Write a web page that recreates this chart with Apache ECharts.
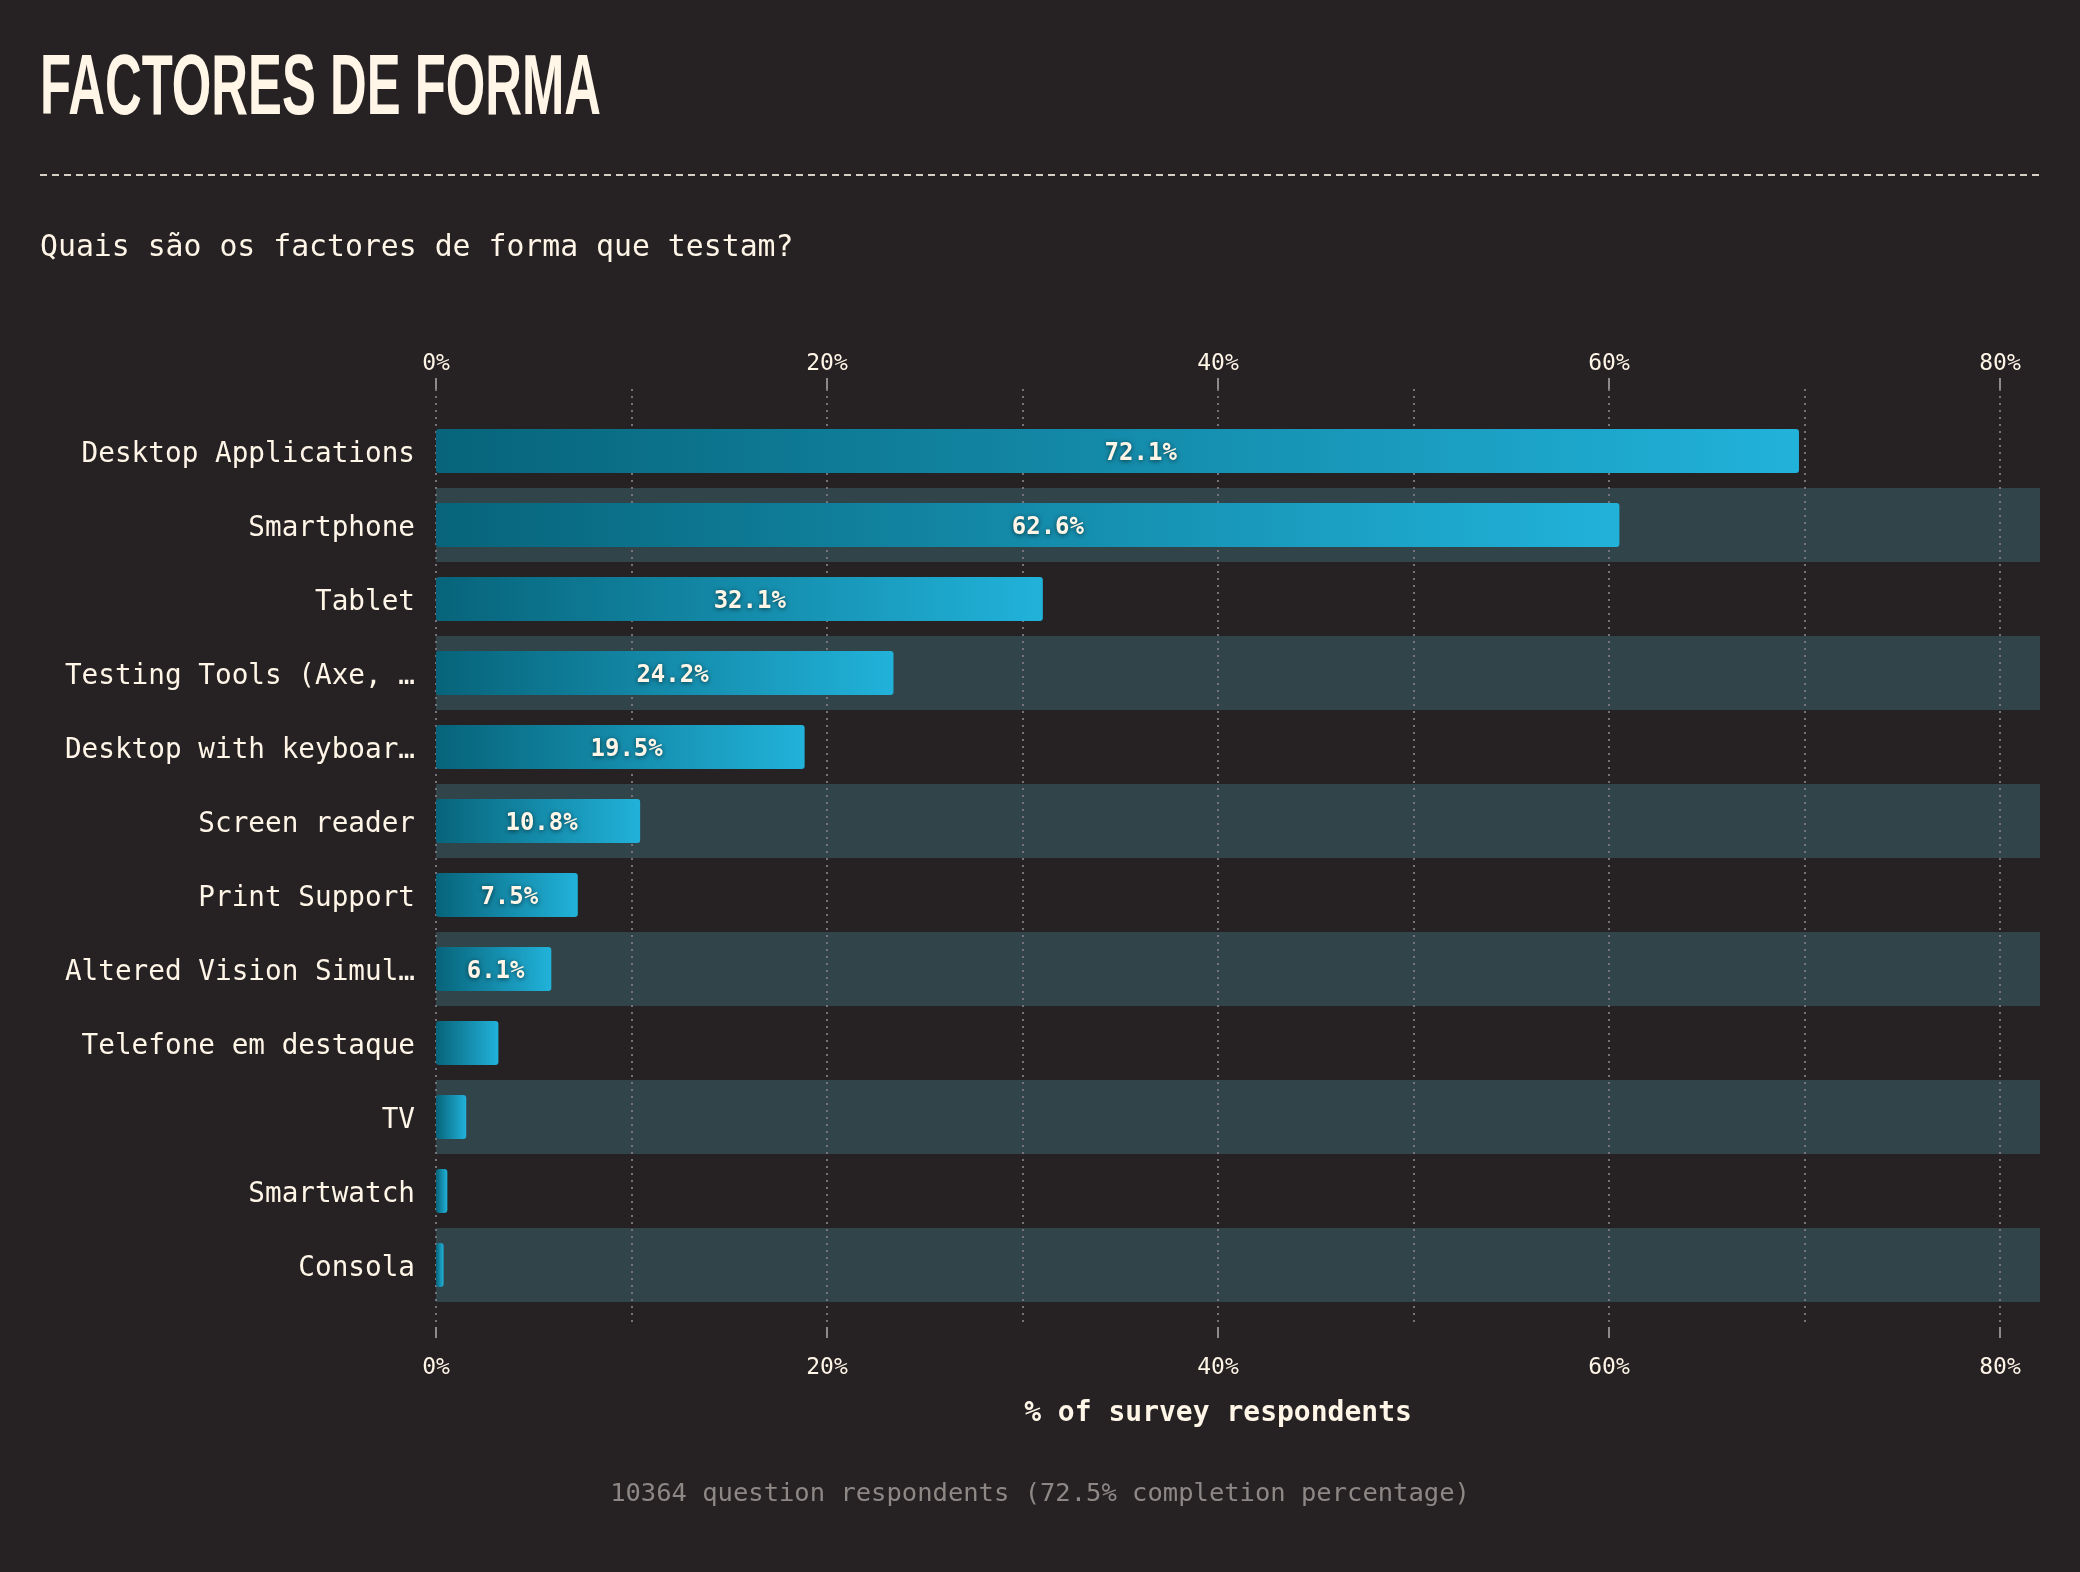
<!DOCTYPE html>
<html>
<head>
<meta charset="utf-8">
<script src="https://cdn.jsdelivr.net/npm/echarts@6/dist/echarts.min.js"></script>
<style>
html,body{margin:0;padding:0;background:#262224;}
#chart{width:2080px;height:1572px;}
</style>
</head>
<body>
<div id="chart"></div>
<script>
const titleText = 'FACTORES DE FORMA';
const subtitleText = 'Quais são os factores de forma que testam?';
const footerText = '10364 question respondents (72.5% completion percentage)';
const axisTitle = '% of survey respondents';
const categories = [
  'Desktop Applications',
  'Smartphone',
  'Tablet',
  'Testing Tools (Axe, …',
  'Desktop with keyboar…',
  'Screen reader',
  'Print Support',
  'Altered Vision Simul…',
  'Telefone em destaque',
  'TV',
  'Smartwatch',
  'Consola'
];
const values = [72.1, 62.6, 32.1, 24.2, 19.5, 10.8, 7.5, 6.1, 3.3, 1.6, 0.6, 0.4];
const tickValues = [0, 20, 40, 60, 80];

const MONO = '"DejaVu Sans Mono", "Liberation Mono", monospace';
const CREAM = '#fff6e8';

const chart = echarts.init(document.getElementById('chart'), null, {renderer: 'canvas'});

const barGradient = new echarts.graphic.LinearGradient(0, 0, 1, 0, [
  {offset: 0, color: '#07647a'},
  {offset: 1, color: '#21b2da'}
]);

const pctLabel = v => (tickValues.indexOf(v) >= 0 ? v + '%' : '');

const topAxis = {
  type: 'value', gridIndex: 0, position: 'top', min: 0, max: 80, interval: 20,
  axisLine: {show: false},
  axisTick: {show: true, length: 11, lineStyle: {color: '#8d8a8a', width: 2}},
  axisLabel: {color: CREAM, fontFamily: MONO, fontSize: 23, margin: 13, formatter: pctLabel},
  splitLine: {show: false}
};
const bottomAxis = {
  type: 'value', gridIndex: 0, position: 'bottom', min: 0, max: 80, interval: 20,
  axisLine: {show: false},
  axisTick: {show: true, length: 11, lineStyle: {color: '#8d8a8a', width: 2}},
  axisLabel: {color: CREAM, fontFamily: MONO, fontSize: 23, margin: 30, formatter: pctLabel},
  splitLine: {show: true, lineStyle: {color: '#75727a', width: 2, type: [2, 5]}},
  minorTick: {show: false, splitNumber: 2},
  minorSplitLine: {show: true, lineStyle: {color: '#75727a', width: 2, type: [2, 5]}},
  name: axisTitle, nameLocation: 'middle', nameGap: 73,
  nameTextStyle: {color: CREAM, fontFamily: MONO, fontSize: 28, fontWeight: 'bold'}
};

const option = {
  backgroundColor: '#262224',
  animation: false,
  grid: [
    {left: 436, right: 80, top: 389, bottom: 245, containLabel: false},
    {left: 436, right: 40, top: 414, bottom: 270, containLabel: false}
  ],
  xAxis: [
    topAxis,
    bottomAxis,
    {type: 'value', gridIndex: 1, min: 0, max: 84.85, show: false},
    {type: 'value', gridIndex: 1, min: 0, max: 82.05, show: false}
  ],
  yAxis: [
    {type: 'category', gridIndex: 0, data: categories, show: false, inverse: true},
    {
      type: 'category', gridIndex: 1, data: categories, inverse: true,
      axisLine: {show: false}, axisTick: {show: false},
      axisLabel: {color: CREAM, fontFamily: MONO, fontSize: 27.7, margin: 21,
                  verticalAlign: 'top', lineHeight: 8},
      splitLine: {show: false},
      splitArea: {show: true, areaStyle: {color: ['rgba(0,0,0,0)', '#31444a']}}
    }
  ],
  graphic: [
    {
      type: 'text', left: 40, top: 48, scaleX: 0.598,
      style: {text: titleText, fill: CREAM, font: 'bold 85px "Liberation Sans", Arial, sans-serif'}
    },
    {
      type: 'line', shape: {x1: 40, y1: 175, x2: 2040, y2: 175},
      style: {stroke: '#d6cfc4', lineWidth: 2, lineDash: [7, 5]}
    },
    {
      type: 'text', left: 40, top: 233,
      style: {text: subtitleText, fill: CREAM, font: '29.8px ' + MONO}
    },
    {
      type: 'text', x: 1040, y: 1494,
      style: {text: footerText, fill: '#8d8885', font: '25.5px ' + MONO, align: 'center', verticalAlign: 'middle'}
    }
  ],
  series: [
    {
      name: 'bars', type: 'bar', xAxisIndex: 2, yAxisIndex: 1,
      data: values, barWidth: 44,
      itemStyle: {color: barGradient, borderRadius: 3},
      label: {show: false}
    },
    {
      name: 'labels', type: 'bar', xAxisIndex: 3, yAxisIndex: 1,
      data: values, barWidth: 44, barGap: '-100%', silent: true,
      itemStyle: {color: 'rgba(0,0,0,0)'},
      label: {
        show: true, position: 'inside', offset: [0, 3],
        color: CREAM, fontFamily: MONO, fontSize: 24, fontWeight: 'bold',
        textShadowColor: 'rgba(0,0,0,0.6)', textShadowBlur: 5, textShadowOffsetY: 1,
        formatter: p => (p.value >= 5 ? p.value.toFixed(1) + '%' : '')
      }
    }
  ]
};
chart.setOption(option);
</script>
</body>
</html>
